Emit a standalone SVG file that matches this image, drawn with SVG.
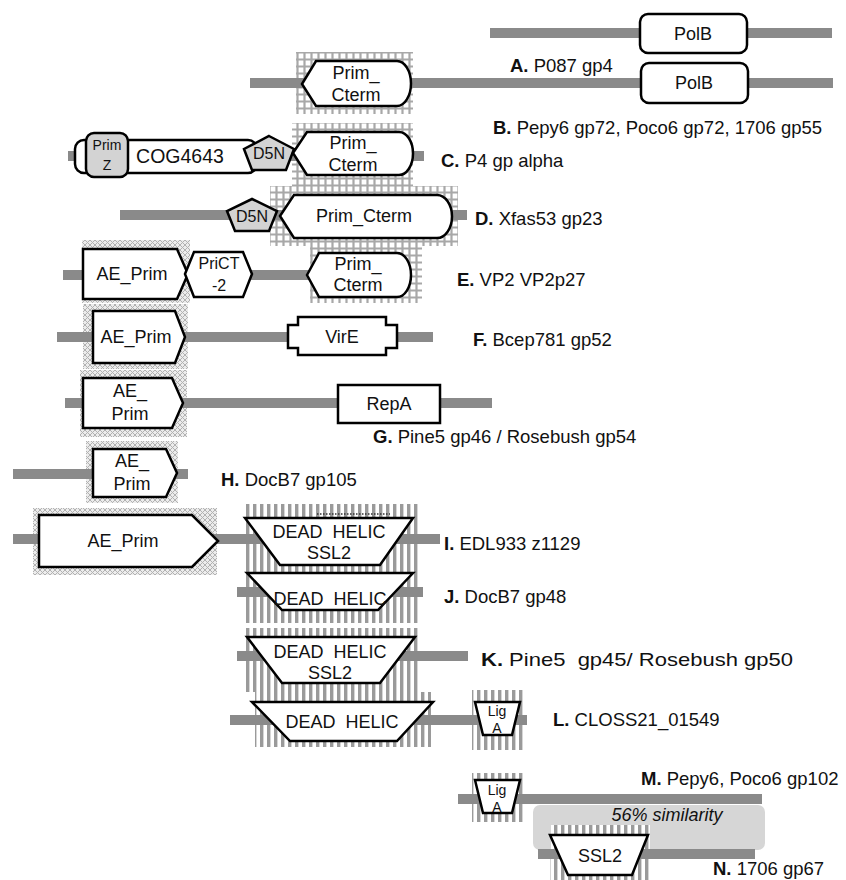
<svg xmlns="http://www.w3.org/2000/svg" width="846" height="880" viewBox="0 0 846 880">
<defs>
<pattern id="grid" width="7" height="7" patternUnits="userSpaceOnUse"><rect width="7" height="7" fill="#fff"/><path d="M3.5,0V7M0,3.5H7" stroke="#a8a8a8" stroke-width="2.2"/></pattern>
<pattern id="xh" width="5" height="5" patternUnits="userSpaceOnUse"><rect width="5" height="5" fill="#ececec"/><path d="M0,0L5,5M5,0L0,5" stroke="#b2b2b2" stroke-width="1"/></pattern>
<pattern id="vs" width="7" height="7" patternUnits="userSpaceOnUse"><rect width="7" height="7" fill="#fff"/><rect x="1" width="3.4" height="7" fill="#9a9a9a"/></pattern>
</defs>
<style>
.bb{stroke:#8a8a8a;stroke-width:10;fill:none}
.dom{fill:#fff;stroke:#000;stroke-width:2.5;stroke-linejoin:miter}
.gr{fill:#d3d3d3}
.g{fill:url(#grid)}
.x{fill:url(#xh)}
.v{fill:url(#vs)}
text{font-family:"Liberation Sans",Arial,sans-serif;fill:#111}
.t{font-size:18px;text-anchor:middle}
.s{font-size:14px;text-anchor:middle}
.m{font-size:16px;text-anchor:middle}
.lbl{font-size:18.5px}
.b{font-weight:bold}
</style>
<rect width="846" height="880" fill="#fff"/>

<g id="backgrounds">
<rect x="533" y="805" width="232" height="45" rx="7" fill="#d6d6d6"/>
<text x="667" y="821" style="font-size:18px;font-style:italic;text-anchor:middle">56% similarity</text>
<rect class="g" x="296" y="52" width="117" height="62"/>
<rect class="g" x="292" y="123" width="121" height="63"/>
<rect class="g" x="270" y="186" width="188" height="60"/>
<rect class="g" x="310" y="246" width="112" height="57"/>
<rect class="x" x="82" y="240" width="108" height="63"/>
<rect class="x" x="83" y="304" width="105" height="65"/>
<rect class="x" x="80" y="370" width="107" height="67"/>
<rect class="x" x="86" y="441" width="92" height="62"/>
<rect class="x" x="33" y="508" width="184" height="67"/>
<rect class="v" x="243" y="504" width="175" height="68"/>
<rect class="v" x="245" y="568" width="173" height="55"/>
<rect class="v" x="245" y="628" width="173" height="64"/>
<rect class="v" x="255" y="692" width="176" height="55"/>
<rect class="v" x="472" y="690" width="51" height="60"/>
<rect class="v" x="472" y="773" width="51" height="49"/>
<rect class="v" x="550" y="825" width="100" height="55"/>
</g>

<g id="connectors">
<line class="bb" x1="490" y1="33" x2="832" y2="33"/>
<line class="bb" x1="250" y1="83" x2="833" y2="83"/>
<line class="bb" x1="68" y1="156" x2="424" y2="156"/>
<line class="bb" x1="120" y1="215" x2="467" y2="215"/>
<line class="bb" x1="63" y1="275" x2="312" y2="275"/>
<line class="bb" x1="57" y1="337" x2="433" y2="337"/>
<line class="bb" x1="65" y1="403" x2="492" y2="403"/>
<line class="bb" x1="13" y1="474" x2="188" y2="474"/>
<line class="bb" x1="13" y1="539" x2="440" y2="539"/>
<line class="bb" x1="237" y1="592" x2="423" y2="592"/>
<line class="bb" x1="237" y1="656" x2="468" y2="656"/>
<line class="bb" x1="230" y1="720" x2="527" y2="720"/>
<line class="bb" x1="458" y1="799" x2="762" y2="799"/>
<line class="bb" x1="538" y1="854" x2="755" y2="854"/>
</g>

<g id="rowA">
<rect class="dom" x="640" y="14" width="107" height="39" rx="8"/>
<text class="t" x="693" y="40">PolB</text>
<text class="lbl" x="510" y="72"><tspan class="b">A.</tspan> P087 gp4</text>
</g>

<g id="rowB">
<path class="dom" d="M302,84 L316,61 H397 A14,22.5 0 0 1 397,106 H316 Z"/>
<text class="t" x="356" y="79">Prim_</text>
<text class="t" x="356" y="101">Cterm</text>
<rect class="dom" x="641" y="63" width="107" height="40" rx="8"/>
<text class="t" x="694" y="89">PolB</text>
<text class="lbl" x="493" y="134"><tspan class="b">B.</tspan> Pepy6 gp72, Poco6 gp72, 1706 gp55</text>
</g>

<g id="rowC">
<rect class="dom" x="75" y="140" width="182" height="33" rx="9"/>
<rect class="dom gr" x="86" y="133" width="42" height="44" rx="8"/>
<text class="s" x="107" y="150">Prim</text>
<text class="s" x="107" y="170">Z</text>
<text x="180" y="163" style="font-size:19.5px;text-anchor:middle">COG4643</text>
<polygon class="dom gr" points="269,136 294,149 286,170 252,170 244,149"/>
<text class="m" x="269" y="159">D5N</text>
<path class="dom" d="M293,153 L307,132 H399 A14,21.5 0 0 1 399,175 H307 Z"/>
<text class="t" x="353" y="149">Prim_</text>
<text class="t" x="353" y="171">Cterm</text>
<text class="lbl" x="441" y="167"><tspan class="b">C.</tspan> P4 gp alpha</text>
</g>

<g id="rowD">
<polygon class="dom gr" points="252,199 277,211 269,231 235,231 227,211"/>
<text class="m" x="252" y="222">D5N</text>
<path class="dom" d="M280,216 L294,195 H437 A15,21.5 0 0 1 437,238 H294 Z"/>
<text class="t" x="364" y="222">Prim_Cterm</text>
<text class="lbl" x="475" y="225"><tspan class="b">D.</tspan> Xfas53 gp23</text>
</g>

<g id="rowE">
<path class="dom" d="M83,249 H177 L188,274 L177,299 H83 Z"/>
<text class="t" x="132" y="280">AE_Prim</text>
<path class="dom" d="M185,274 L194,252 H243 L252,274 L243,297 H194 Z"/>
<text class="m" x="219" y="269">PriCT</text>
<text class="m" x="219" y="291">-2</text>
<path class="dom" d="M307,275 L319,253 H397 A14,22 0 0 1 397,297 H319 Z"/>
<text class="t" x="358" y="270">Prim_</text>
<text class="t" x="358" y="291">Cterm</text>
<text class="lbl" x="457" y="286"><tspan class="b">E.</tspan> VP2 VP2p27</text>
</g>

<g id="rowF">
<path class="dom" d="M93,311 H175 L185,337 L175,363 H93 Z"/>
<text class="t" x="136" y="343">AE_Prim</text>
<path class="dom" d="M298,317 H386 V325 H397 V348 H386 V355 H298 V348 H288 V325 H298 Z"/>
<text class="t" x="342" y="343">VirE</text>
<text class="lbl" x="473" y="346"><tspan class="b">F.</tspan> Bcep781 gp52</text>
</g>

<g id="rowG">
<path class="dom" d="M83,378 H172 L183,403 L172,428 H83 Z"/>
<text class="t" x="130" y="397">AE_</text>
<text class="t" x="130" y="420">Prim</text>
<rect class="dom" x="338" y="385" width="102" height="38"/>
<text class="t" x="389" y="410">RepA</text>
<text class="lbl" x="373" y="443"><tspan class="b">G.</tspan> Pine5 gp46 / Rosebush gp54</text>
</g>

<g id="rowH">
<path class="dom" d="M93,449 H166 L177,473 L166,497 H93 Z"/>
<text class="t" x="132" y="467">AE_</text>
<text class="t" x="132" y="490">Prim</text>
<text class="lbl" x="221" y="486"><tspan class="b">H.</tspan> DocB7 gp105</text>
</g>

<g id="rowI">
<path class="dom" d="M39,515 H192 L218,541 L192,567 H39 Z"/>
<text class="t" x="123" y="547">AE_Prim</text>
<path class="dom" d="M245,518 H413 L380,565 H280 Z"/>
<line x1="317" y1="514" x2="390" y2="514" stroke="#333" stroke-width="1.5" stroke-dasharray="1.5,1.5"/>
<text class="t" x="329" y="538" xml:space="preserve">DEAD  HELIC</text>
<text class="t" x="329" y="559">SSL2</text>
<text class="lbl" x="444" y="550"><tspan class="b">I.</tspan> EDL933 z1129</text>
</g>

<g id="rowJ">
<path class="dom" d="M247,573 H413 L378,610 H282 Z"/>
<text class="t" x="330" y="605" xml:space="preserve">DEAD  HELIC</text>
<text class="lbl" x="444" y="603"><tspan class="b">J.</tspan> DocB7 gp48</text>
</g>

<g id="rowK">
<path class="dom" d="M247,637 H415 L380,683 H282 Z"/>
<text class="t" x="330" y="658" xml:space="preserve">DEAD  HELIC</text>
<text class="t" x="330" y="679">SSL2</text>
<text class="lbl" x="481" y="666" xml:space="preserve" textLength="312" lengthAdjust="spacingAndGlyphs"><tspan class="b">K.</tspan> Pine5  gp45/ Rosebush gp50</text>
</g>

<g id="rowL">
<path class="dom" d="M252,702 H433 L397,741 H290 Z"/>
<text class="t" x="342" y="728" xml:space="preserve">DEAD  HELIC</text>
<path class="dom" d="M475,702 H520 L512,735 H483 Z"/>
<text class="s" x="497" y="716">Lig</text>
<text class="s" x="497" y="733">A</text>
<text class="lbl" x="553" y="726"><tspan class="b">L.</tspan> CLOSS21_01549</text>
</g>

<g id="rowM">
<path class="dom" d="M475,780 H520 L512,813 H483 Z"/>
<text class="s" x="497" y="795">Lig</text>
<text class="s" x="497" y="812">A</text>
<text class="lbl" x="641" y="785"><tspan class="b">M.</tspan> Pepy6, Poco6 gp102</text>
</g>

<g id="rowN">
<path class="dom" d="M550,835 H648 L632,875 H568 Z"/>
<text class="t" x="600" y="862">SSL2</text>
<text class="lbl" x="713" y="875"><tspan class="b">N.</tspan> 1706 gp67</text>
</g>
</svg>
